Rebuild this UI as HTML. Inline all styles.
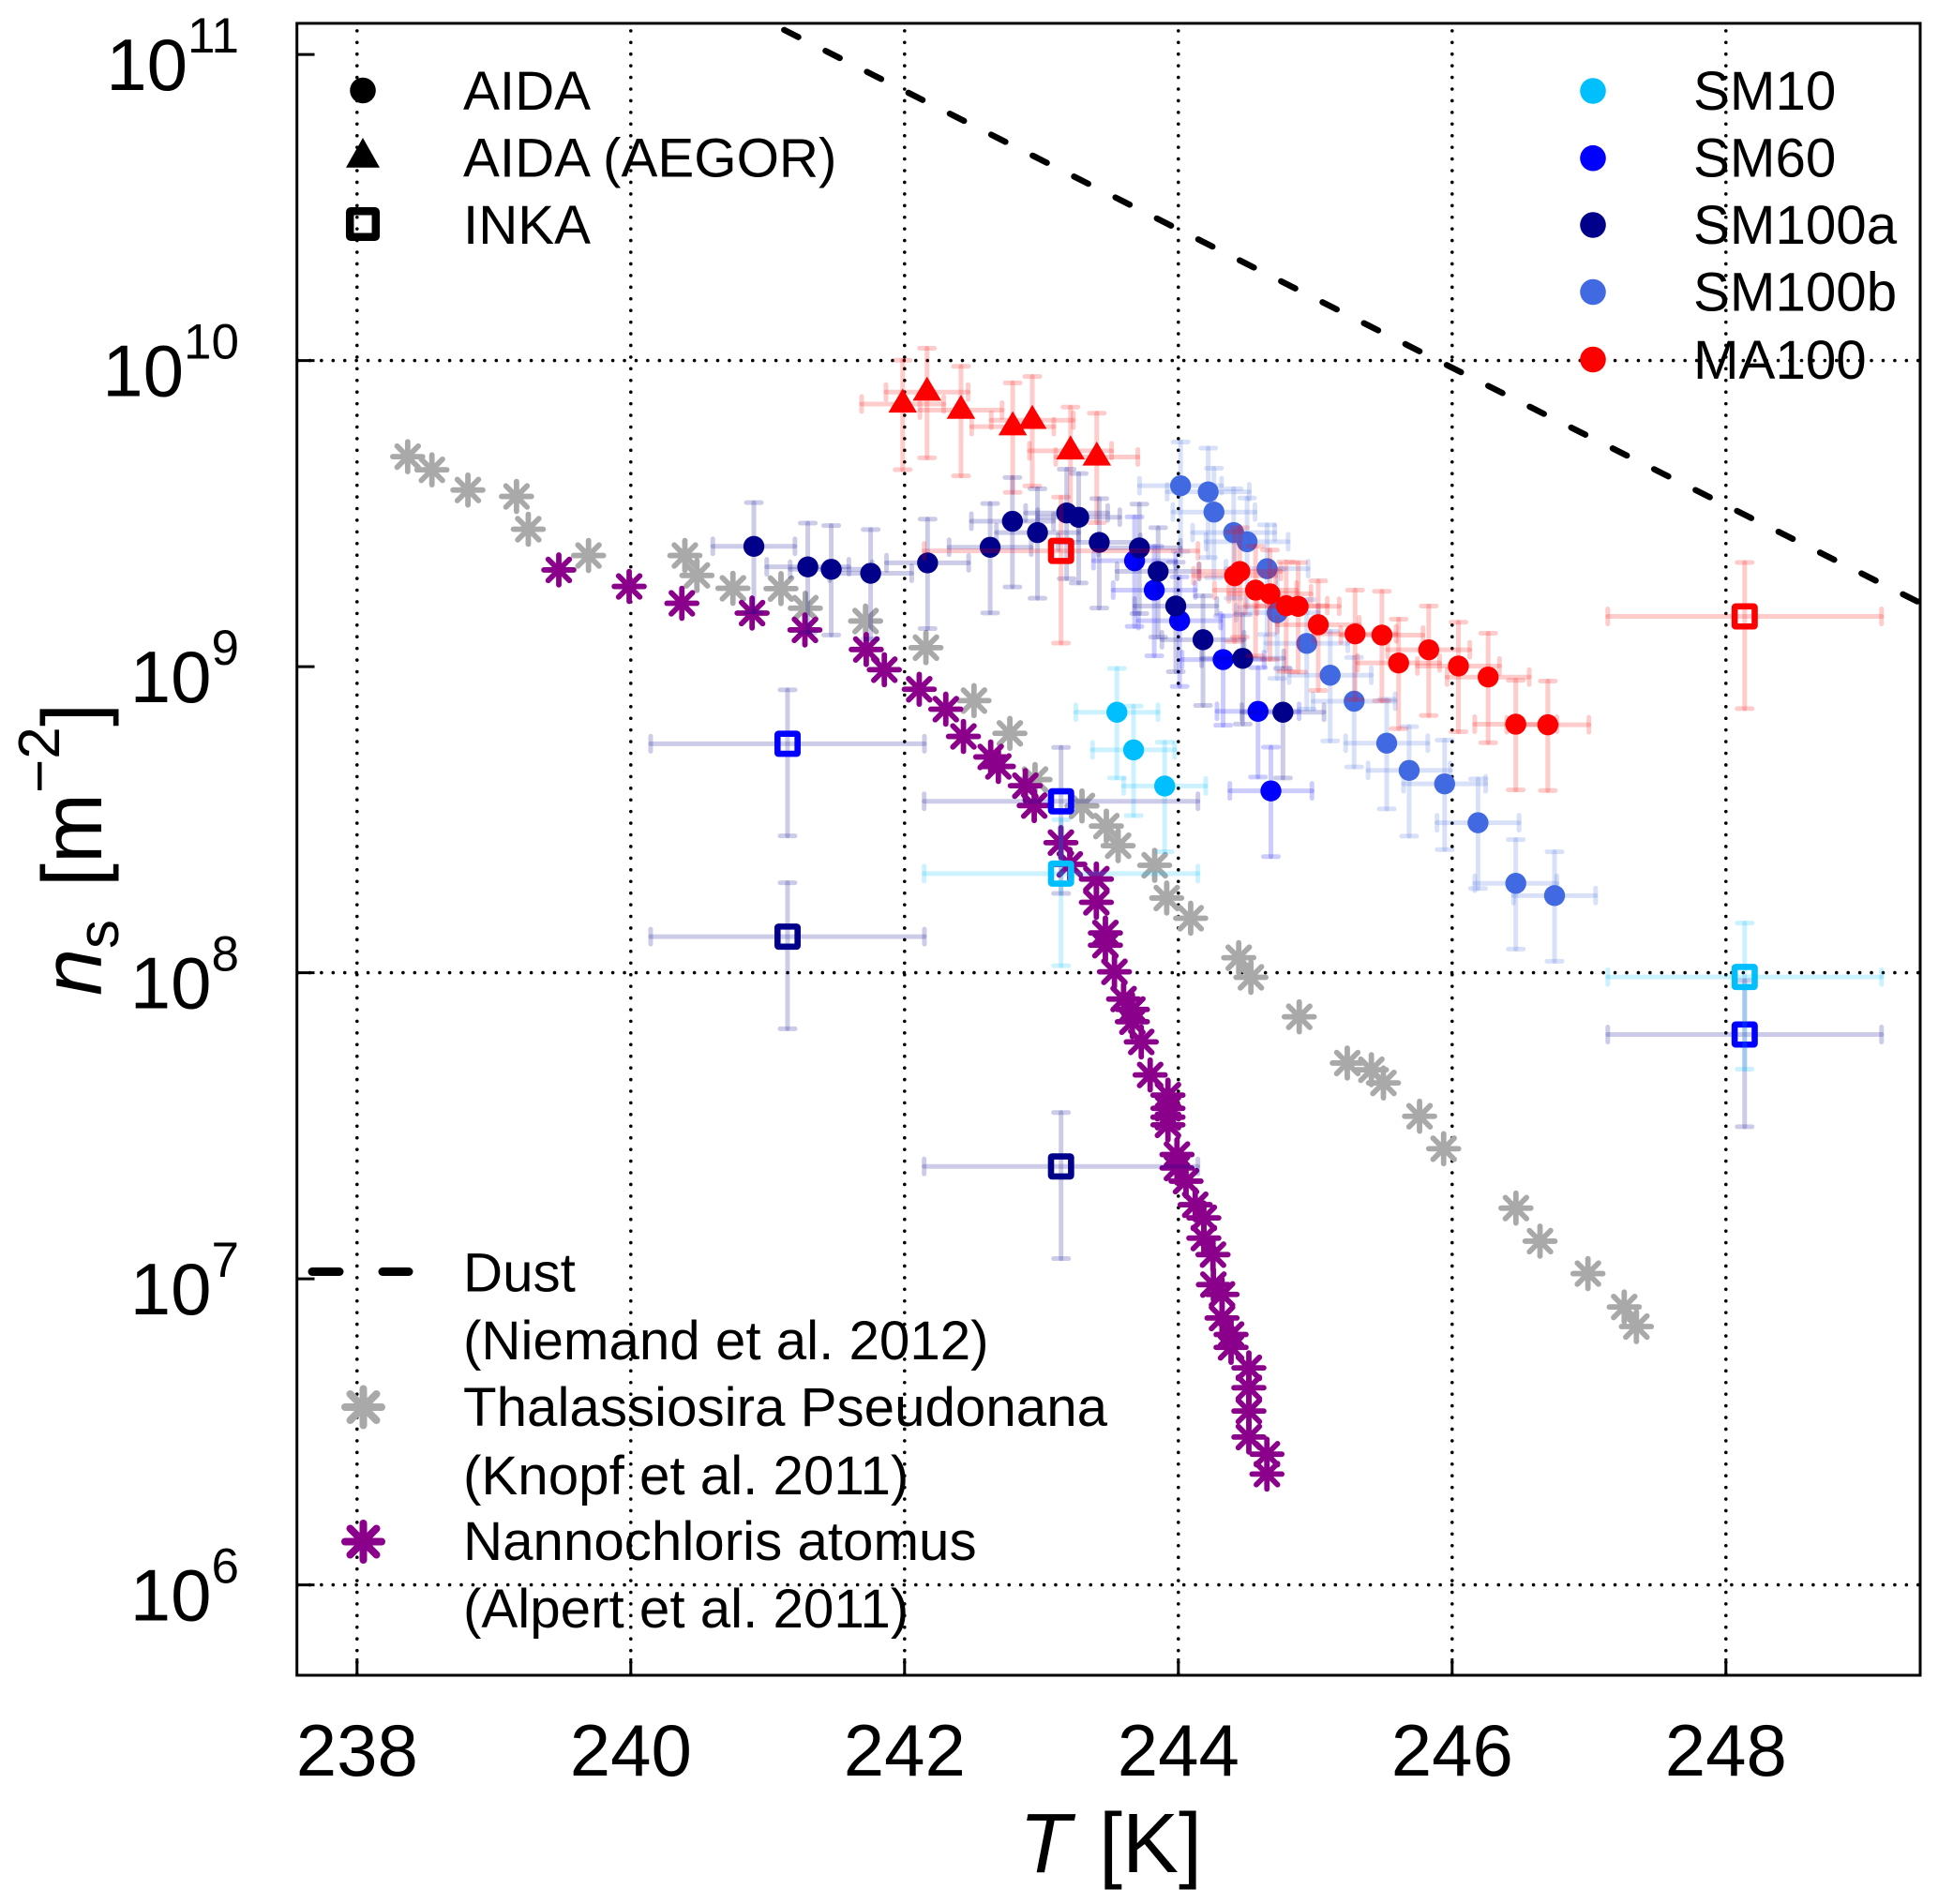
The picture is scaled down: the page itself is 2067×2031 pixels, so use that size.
<!DOCTYPE html>
<html lang="en">
<head>
<meta charset="utf-8">
<title>Ice nucleation site density vs temperature</title>
<style>
html,body{margin:0;padding:0;background:#fff;}
svg{display:block;font-family:"Liberation Sans",Arial,sans-serif;}
text{fill:#000;}
</style>
</head>
<body>
<svg id="chart" xmlns="http://www.w3.org/2000/svg" width="2067" height="2031" viewBox="0 0 2067 2031">
  <defs><clipPath id="plot-clip"><rect x="316.7" y="24.9" width="1731.3" height="1762.1"/></clipPath></defs>
  <rect x="0" y="0" width="2067" height="2031" fill="#fff"/>
  <g id="grid"></g>
  <g id="series" clip-path="url(#plot-clip)"></g>
  <rect x="316.7" y="24.9" width="1731.3" height="1762.1" fill="none" stroke="#000" stroke-width="3"/>
  <g id="axes"></g>

  <text y="1997" font-size="90"><tspan x="1087" font-style="italic">T</tspan><tspan x="1172">[K]</tspan></text>
  <text transform="translate(108,1062) rotate(-90)" font-size="90"><tspan x="0" y="0" font-style="italic">n</tspan><tspan x="50" y="18" font-size="62">s</tspan><tspan x="116" y="0">[</tspan><tspan x="141" y="0">m</tspan><tspan x="216" y="-45" font-size="62">−2</tspan><tspan x="287" y="0">]</tspan></text>

  <g font-size="58.3">
    <circle cx="387" cy="96.5" r="13.8" fill="#000"/>
    <polygon points="387,147 405,178.7 369,178.7" fill="#000"/>
    <rect x="373.2" y="225.2" width="27.6" height="27.6" rx="1" fill="none" stroke="#000" stroke-width="8.5"/>
    <text x="494" y="117">AIDA</text>
    <text x="494" y="188.7">AIDA (AEGOR)</text>
    <text x="494" y="260">INKA</text>
  </g>
  <g font-size="58.3">
    <circle cx="1699" cy="97" r="13.8" fill="#00BFFF"/>
    <circle cx="1699" cy="168.7" r="13.8" fill="#0000FF"/>
    <circle cx="1699" cy="240" r="13.8" fill="#00008B"/>
    <circle cx="1699" cy="311.5" r="13.8" fill="#4169E1"/>
    <circle cx="1699" cy="383.5" r="13.8" fill="#FF0000"/>
    <text x="1806" y="117">SM10</text>
    <text x="1806" y="188.7">SM60</text>
    <text x="1806" y="260">SM100a</text>
    <text x="1806" y="331.5">SM100b</text>
    <text x="1806" y="404">MA100</text>
  </g>
  <g id="legend-lit" font-size="58.3">
    <line x1="333" y1="1356.5" x2="362" y2="1356.5" stroke="#000" stroke-width="9" stroke-linecap="round"/>
    <line x1="408" y1="1356.5" x2="436" y2="1356.5" stroke="#000" stroke-width="9" stroke-linecap="round"/>
    <text x="494" y="1377.5">Dust</text>
    <text x="494" y="1450">(Niemand et al. 2012)</text>
    <text x="494" y="1521">Thalassiosira Pseudonana</text>
    <text x="494" y="1594">(Knopf et al. 2011)</text>
    <text x="494" y="1664">Nannochloris atomus</text>
    <text x="494" y="1736">(Alpert et al. 2011)</text>
  </g>
</svg>
<script>
// ---- axis tick data ----
const xTickLabels = [238, 240, 242, 244, 246, 248];
const yTickExponents = [11, 10, 9, 8, 7, 6];
const yGridExponents = [10, 8, 6];

// ---- uncertainty values ----
const aidaTempError = 0.3;
const aidaRelError = 0.39;
const inkaTempError = 1.0;
const inkaRelError = 0.5;

// ---- dust parameterisation (Niemand et al. 2012) ----
const dustT = [240.9, 245.94, 249.5];
const dustLogNs = [11.13, 9.99, 9.19];

// ---- Thalassiosira Pseudonana ----
const grayT = [238.37,238.547,238.81,239.165,239.251,239.691,240.395,240.483,240.746,241.097,241.275,241.715,242.156,242.507,242.769,242.953,243.296,243.474,243.56,243.827,243.915,244.09,244.441,244.53,244.883,245.234,245.41,245.498,245.762,245.938,246.466,246.642,246.992,247.257,247.346];
const grayLogNs = [9.686,9.643,9.577,9.556,9.449,9.363,9.363,9.298,9.256,9.255,9.191,9.149,9.062,8.889,8.782,8.631,8.545,8.479,8.415,8.351,8.244,8.178,8.049,7.985,7.856,7.705,7.683,7.64,7.531,7.425,7.231,7.123,7.017,6.908,6.844];

// ---- Nannochloris atomus ----
const purpleT = [239.474,239.988,240.373,240.886,241.272,241.72,241.852,242.107,242.301,242.43,242.629,242.685,242.882,242.947,243.142,243.207,243.401,243.401,243.467,243.467,243.533,243.6,243.664,243.664,243.729,243.794,243.924,243.924,243.924,243.924,243.99,243.99,244.056,244.123,244.186,244.186,244.253,244.256,244.319,244.319,244.385,244.385,244.515,244.515,244.515,244.515,244.647,244.647];
const purpleLogNs = [9.316,9.262,9.207,9.175,9.12,9.056,8.99,8.926,8.861,8.772,8.705,8.674,8.611,8.546,8.425,8.354,8.306,8.23,8.13,8.09,8.003,7.914,7.88,7.84,7.774,7.666,7.6,7.557,7.528,7.503,7.406,7.362,7.319,7.242,7.199,7.133,7.079,6.981,6.949,6.872,6.818,6.776,6.709,6.644,6.568,6.483,6.427,6.362];

// ---- AIDA circles ----
const sm10T = [243.551,243.673,243.9];
const sm10LogNs = [8.851,8.728,8.61];
const sm60T = [243.68,243.824,244.009,244.327,244.582,244.676];
const sm60LogNs = [9.346,9.25,9.15,9.023,8.854,8.594];
const sm100aT = [240.899,241.293,241.464,241.752,242.168,242.625,242.788,242.971,243.184,243.272,243.422,243.715,243.852,243.981,244.18,244.47,244.764];
const sm100aLogNs = [9.393,9.326,9.318,9.305,9.339,9.39,9.475,9.438,9.502,9.488,9.406,9.388,9.311,9.198,9.088,9.027,8.851];
const sm100bT = [244.016,244.218,244.26,244.404,244.502,244.648,244.722,244.938,245.109,245.284,245.522,245.686,245.945,246.189,246.465,246.748];
const sm100bLogNs = [9.591,9.571,9.505,9.438,9.408,9.32,9.176,9.076,8.972,8.887,8.75,8.661,8.617,8.49,8.292,8.252];
const ma100T = [244.411,244.449,244.564,244.669,244.788,244.875,245.022,245.291,245.487,245.609,245.829,246.046,246.263,246.465,246.699];
const ma100LogNs = [9.297,9.311,9.25,9.238,9.199,9.197,9.137,9.107,9.103,9.012,9.055,9.002,8.966,8.812,8.81];

// ---- AIDA (AEGOR) triangles ----
const aegorT = [241.986,242.164,242.412,242.79,242.933,243.212,243.404];
const aegorLogNs = [9.858,9.897,9.838,9.784,9.805,9.705,9.685];

// ---- INKA squares ----
const inkaSm10T = [243.143,248.137];
const inkaSm10LogNs = [8.324,7.986];
const inkaSm60T = [241.145,243.143,248.137];
const inkaSm60LogNs = [8.748,8.56,7.798];
const inkaSm100aT = [241.145,243.143];
const inkaSm100aLogNs = [8.118,7.367];
const inkaMa100T = [243.143,248.137];
const inkaMa100LogNs = [9.378,9.164];

// ---- axis functions ----
function xScale(t) { return 380.8 + (t - 238) * 146; }
function yScale(logNs) { return 384.6 + (10 - logNs) * 326.5; }

const SVGNS = 'http://www.w3.org/2000/svg';
const gridLayer = document.getElementById('grid');
const axesLayer = document.getElementById('axes');
const seriesLayer = document.getElementById('series');
const legendLit = document.getElementById('legend-lit');

function mk(tag, parent, attrs) {
  const el = document.createElementNS(SVGNS, tag);
  for (const k in attrs) el.setAttribute(k, attrs[k]);
  parent.appendChild(el);
  return el;
}

// grid
xTickLabels.forEach(function (t) {
  const el = mk('line', gridLayer, {x1: xScale(t), x2: xScale(t), y1: 1785.5, y2: 26, stroke: '#000', 'stroke-width': 3.6, 'stroke-linecap': 'round', 'stroke-dasharray': '0 12.43'});
  
  
});
yGridExponents.forEach(function (e) {
  const el = mk('line', gridLayer, {x1: 318, x2: 2047, y1: yScale(e), y2: yScale(e), stroke: '#000', 'stroke-width': 3.6, 'stroke-linecap': 'round', 'stroke-dasharray': '0 12.43'});
  
  
});

// x axis
xTickLabels.forEach(function (t) {
  const tick = mk('line', axesLayer, {x1: xScale(t), x2: xScale(t), y1: 1787, y2: 1769, stroke: '#000', 'stroke-width': 3});
  
  
  const label = mk('text', axesLayer, {x: xScale(t), y: 1894, 'font-size': 78, 'text-anchor': 'middle'});
  label.textContent = String(t);
  
  
});

// y axis
yTickExponents.forEach(function (e) {
  const tick = mk('line', axesLayer, {x1: 316.7, x2: 335.5, y1: yScale(e), y2: yScale(e), stroke: '#000', 'stroke-width': 3});
  
  
  const label = mk('text', axesLayer, {x: 255, y: yScale(e) + 38, 'font-size': 78, 'text-anchor': 'end'});
  
  
  const base = mk('tspan', label, {});
  base.textContent = '10';
  const sup = mk('tspan', label, {dy: -40, 'font-size': 53});
  sup.textContent = String(e);
});

// asterisk marker
function asterisk(parent, cx, cy, color, arm, diag, sw) {
  const g = mk('g', parent, {stroke: color, 'stroke-width': sw, 'stroke-linecap': 'round'});
  mk('line', g, {x1: cx - arm, x2: cx + arm, y1: cy, y2: cy});
  mk('line', g, {x1: cx, x2: cx, y1: cy - arm, y2: cy + arm});
  mk('line', g, {x1: cx - diag, x2: cx + diag, y1: cy - diag, y2: cy + diag});
  mk('line', g, {x1: cx - diag, x2: cx + diag, y1: cy + diag, y2: cy - diag});
  return g;
}

// error bars: T +/- dT, ns * (1 +/- rel)
function errorBars(parent, t, logNs, dT, rel, color) {
  const g = mk('g', parent, {stroke: color, 'stroke-opacity': 0.2, 'stroke-width': 5, 'stroke-linecap': 'round'});
  const x = xScale(t), y = yScale(logNs);
  const xl = xScale(t - dT), xr = xScale(t + dT);
  const yt = yScale(logNs + Math.log10(1 + rel)), yb = yScale(logNs + Math.log10(1 - rel));
  const cap = 8;
  mk('line', g, {x1: xl, x2: xr, y1: y, y2: y});
  mk('line', g, {x1: xl, x2: xl, y1: y - cap, y2: y + cap});
  mk('line', g, {x1: xr, x2: xr, y1: y - cap, y2: y + cap});
  mk('line', g, {x1: x, x2: x, y1: yt, y2: yb});
  mk('line', g, {x1: x - cap, x2: x + cap, y1: yt, y2: yt});
  mk('line', g, {x1: x - cap, x2: x + cap, y1: yb, y2: yb});
  return g;
}

// dust line
const dustPts = dustT.map(function (t, i) { return xScale(t) + ',' + yScale(dustLogNs[i]); }).join(' ');
const dustLine = mk('polyline', seriesLayer, {points: dustPts, fill: 'none', stroke: '#000', 'stroke-width': 6.5, 'stroke-linecap': 'round', 'stroke-dasharray': '17 32.5', 'stroke-dashoffset': 13.5});



// literature series
grayT.forEach(function (t, i) {
  const m = asterisk(seriesLayer, xScale(t), yScale(grayLogNs[i]), '#A9A9A9', 15.9, 11.3, 5.8);
  
  
});
purpleT.forEach(function (t, i) {
  const m = asterisk(seriesLayer, xScale(t), yScale(purpleLogNs[i]), '#8B008B', 15.9, 11.3, 5.8);
  
  
});

// AIDA triangles
aegorT.forEach(function (t, i) {
  const bars = errorBars(seriesLayer, t, aegorLogNs[i], aidaTempError, aidaRelError, '#FF0000');
  
  
});
aegorT.forEach(function (t, i) {
  const x = xScale(t), y = yScale(aegorLogNs[i]);
  const m = mk('polygon', seriesLayer, {points: (x) + ',' + (y - 16.5) + ' ' + (x + 15.3) + ',' + (y + 9.2) + ' ' + (x - 15.3) + ',' + (y + 9.2), fill: '#FF0000'});
  
  
});

// AIDA circles
function circleSeries(ts, logs, color) {
  ts.forEach(function (t, i) {
    const bars = errorBars(seriesLayer, t, logs[i], aidaTempError, aidaRelError, color);
    
    
  });
  ts.forEach(function (t, i) {
    const m = mk('circle', seriesLayer, {cx: xScale(t), cy: yScale(logs[i]), r: 11.2, fill: color});
    
    
  });
}
circleSeries(sm10T, sm10LogNs, '#00BFFF');
circleSeries(sm60T, sm60LogNs, '#0000FF');
circleSeries(sm100aT, sm100aLogNs, '#00008B');
circleSeries(sm100bT, sm100bLogNs, '#4169E1');
circleSeries(ma100T, ma100LogNs, '#FF0000');

// INKA squares
function inkaSeries(ts, logs, color, barColor) {
  ts.forEach(function (t, i) {
    const bars = errorBars(seriesLayer, t, logs[i], inkaTempError, inkaRelError, barColor);
    
    
  });
  ts.forEach(function (t, i) {
    const m = mk('rect', seriesLayer, {x: xScale(t) - 10.7, y: yScale(logs[i]) - 10.7, width: 21.4, height: 21.4, rx: 1, fill: 'none', stroke: color, 'stroke-width': 6.6});
    
    
  });
}
inkaSeries(inkaSm100aT, inkaSm100aLogNs, '#00008B', '#00008B');
inkaSeries(inkaSm60T, inkaSm60LogNs, '#0000FF', '#00008B');
inkaSeries(inkaSm10T, inkaSm10LogNs, '#00BFFF', '#00BFFF');
inkaSeries(inkaMa100T, inkaMa100LogNs, '#FF0000', '#FF0000');

// legend asterisks
const legendGray = asterisk(legendLit, 387.5, 1501, '#A9A9A9', 19.5, 14, 8);


const legendPurple = asterisk(legendLit, 387.5, 1644.5, '#8B008B', 19.5, 14, 8);


</script>
</body>
</html>
